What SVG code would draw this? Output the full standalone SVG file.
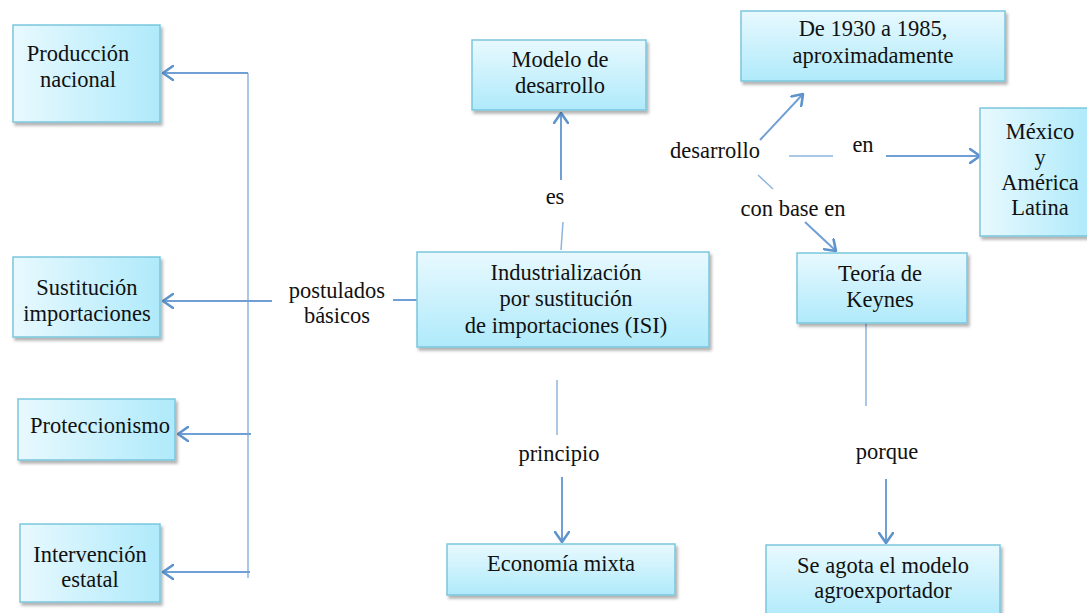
<svg xmlns="http://www.w3.org/2000/svg" width="1087" height="613" viewBox="0 0 1087 613">
<defs>
<linearGradient id="gh" x1="0" y1="0" x2="1" y2="0"><stop offset="0" stop-color="#e8f9fe"/><stop offset="1" stop-color="#afeafb"/></linearGradient>
<linearGradient id="gv" x1="0" y1="0" x2="0" y2="1"><stop offset="0" stop-color="#e8f9fe"/><stop offset="1" stop-color="#afeafb"/></linearGradient>
<filter id="sh" x="-10%" y="-10%" width="130%" height="140%"><feDropShadow dx="2" dy="3" stdDeviation="1.5" flood-color="#000" flood-opacity="0.3"/></filter>
<marker id="ar" viewBox="0 0 12 16" refX="11" refY="8" markerWidth="12" markerHeight="16" markerUnits="userSpaceOnUse" orient="auto"><path d="M1,1 L11,8 L1,15" fill="none" stroke="#5f93cc" stroke-width="2.6" stroke-linecap="round" stroke-linejoin="round"/></marker>
</defs>
<style>
.bh{fill:url(#gh);stroke:#7ac6dd;stroke-width:1.5;filter:url(#sh)}
.bv{fill:url(#gv);stroke:#7ac6dd;stroke-width:1.5;filter:url(#sh)}
text{font-family:"Liberation Serif",serif;font-size:22.5px;fill:#111;text-anchor:middle}
.c{fill:none;stroke:#6f9fd4;stroke-width:2}
.l{fill:none;stroke:#8fb4de;stroke-width:1.5}
</style>
<rect width="1087" height="613" fill="#fff"/>
<g id="connectors">
<path class="l" d="M248,73 V578"/>
<path class="c" d="M248,73 H163" marker-end="url(#ar)"/>
<path class="c" d="M272,301 H163" marker-end="url(#ar)"/>
<path class="c" d="M251,434 H178" marker-end="url(#ar)"/>
<path class="c" d="M250,572 H163" marker-end="url(#ar)"/>
<path class="c" d="M393,300 H417"/>
<path class="l" d="M561,250 L563,222"/>
<path class="c" d="M561,180 V113" marker-end="url(#ar)"/>
<path class="l" d="M557,380 V435"/>
<path class="c" d="M562,477 V542" marker-end="url(#ar)"/>
<path class="c" d="M760,140 L803,94" marker-end="url(#ar)"/>
<path class="l" d="M789,156 H833"/>
<path class="c" d="M886,156 H980" marker-end="url(#ar)"/>
<path class="l" d="M758,175 L773,189"/>
<path class="c" d="M805,222 L836,251" marker-end="url(#ar)"/>
<path class="l" d="M866,323 V406"/>
<path class="c" d="M886,479 V543" marker-end="url(#ar)"/>
</g>
<g id="labels">
<text x="337" y="298">postulados</text>
<text x="337" y="323">básicos</text>
<text x="555" y="204">es</text>
<text x="559" y="461">principio</text>
<text x="715" y="158">desarrollo</text>
<text x="863" y="152">en</text>
<text x="793" y="216">con base en</text>
<text x="887" y="459">porque</text>
</g>
<g id="produccion"><rect class="bh" x="13" y="25" width="147" height="97"/><text x="78" y="61">Producción</text><text x="78" y="87">nacional</text></g>
<g id="sustitucion"><rect class="bh" x="13" y="257" width="147" height="80"/><text x="87" y="295">Sustitución</text><text x="87" y="321">importaciones</text></g>
<g id="proteccionismo"><rect class="bh" x="18" y="399" width="157" height="61"/><text x="100" y="433">Proteccionismo</text></g>
<g id="intervencion"><rect class="bh" x="20" y="524" width="140" height="78"/><text x="90" y="562">Intervención</text><text x="90" y="587">estatal</text></g>
<g id="modelo"><rect class="bv" x="472" y="40" width="174" height="70"/><text x="560" y="67">Modelo de</text><text x="560" y="93">desarrollo</text></g>
<g id="isi"><rect class="bv" x="417" y="252" width="292" height="95"/><text x="566" y="280">Industrialización</text><text x="566" y="306">por sustitución</text><text x="566" y="333">de importaciones (ISI)</text></g>
<g id="economia"><rect class="bv" x="447" y="544" width="228" height="51"/><text x="561" y="571">Economía mixta</text></g>
<g id="periodo"><rect class="bv" x="741" y="11" width="264" height="70"/><text x="873" y="36">De 1930 a 1985,</text><text x="873" y="63">aproximadamente</text></g>
<g id="mexico"><rect class="bh" x="980" y="108" width="110" height="128"/><text x="1040" y="139">México</text><text x="1040" y="165">y</text><text x="1040" y="190">América</text><text x="1040" y="215">Latina</text></g>
<g id="keynes"><rect class="bv" x="797" y="253" width="170" height="70"/><text x="880" y="281">Teoría de</text><text x="880" y="307">Keynes</text></g>
<g id="agota"><rect class="bv" x="766" y="545" width="234" height="75"/><text x="883" y="573">Se agota el modelo</text><text x="883" y="598">agroexportador</text></g>
</svg>
